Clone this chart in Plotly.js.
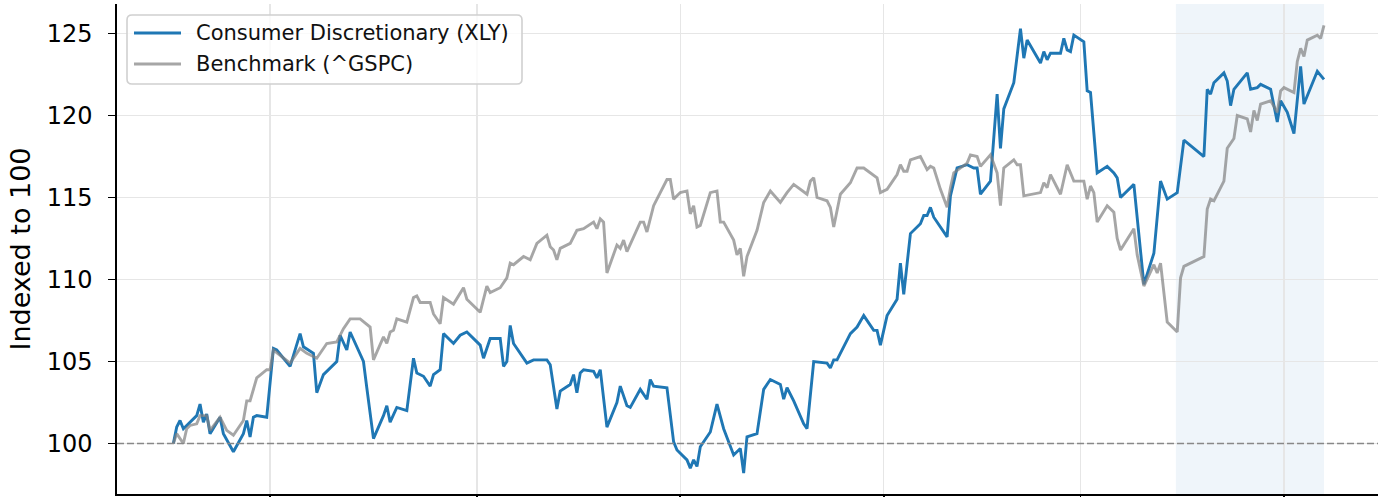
<!DOCTYPE html>
<html>
<head>
<meta charset="utf-8">
<script src="https://cdn.plot.ly/plotly-3.0.1.min.js"></script>
<style>
  html, body { margin: 0; padding: 0; background: #ffffff; }
  #chart { width: 1378px; height: 497px; }
</style>
</head>
<body>
<div id="chart"></div>
<script>
// ---------- data ----------
const xlyName = "Consumer Discretionary (XLY)";
const benchName = "Benchmark (^GSPC)";

const xlyDates = [
  "2024-06-02","2024-06-03","2024-06-04","2024-06-05","2024-06-06","2024-06-09","2024-06-10","2024-06-11","2024-06-12","2024-06-13","2024-06-16","2024-06-17","2024-06-20","2024-06-23","2024-06-24","2024-06-25","2024-06-26","2024-06-27","2024-06-30",
  "2024-07-02","2024-07-03","2024-07-07","2024-07-10","2024-07-11","2024-07-14","2024-07-15","2024-07-17","2024-07-21","2024-07-22","2024-07-24","2024-07-25","2024-07-29","2024-07-30",
  "2024-08-01","2024-08-04","2024-08-05","2024-08-06","2024-08-08","2024-08-11","2024-08-13","2024-08-14","2024-08-16","2024-08-18","2024-08-19","2024-08-21","2024-08-22","2024-08-25","2024-08-27","2024-08-29",
  "2024-09-02","2024-09-03","2024-09-05","2024-09-08","2024-09-09","2024-09-10","2024-09-11","2024-09-12","2024-09-16","2024-09-18","2024-09-22","2024-09-23","2024-09-25","2024-09-26","2024-09-29","2024-09-30",
  "2024-10-01","2024-10-02","2024-10-03","2024-10-06","2024-10-07","2024-10-08","2024-10-10","2024-10-13","2024-10-14","2024-10-16","2024-10-17","2024-10-20","2024-10-22","2024-10-23","2024-10-24","2024-10-28","2024-10-30","2024-10-31",
  "2024-11-03","2024-11-04","2024-11-05","2024-11-06","2024-11-07","2024-11-10","2024-11-12","2024-11-14","2024-11-17","2024-11-19","2024-11-20","2024-11-21","2024-11-24","2024-11-26","2024-11-28",
  "2024-12-01","2024-12-02","2024-12-03","2024-12-05","2024-12-08","2024-12-09","2024-12-11","2024-12-15","2024-12-16","2024-12-17","2024-12-18","2024-12-22","2024-12-24","2024-12-26","2024-12-29","2024-12-30","2024-12-31",
  "2025-01-02","2025-01-05","2025-01-06","2025-01-07","2025-01-09","2025-01-12","2025-01-13","2025-01-14","2025-01-15","2025-01-16","2025-01-20","2025-01-21","2025-01-23","2025-01-26","2025-01-28","2025-01-29","2025-01-30",
  "2025-02-02","2025-02-04","2025-02-05","2025-02-06","2025-02-09","2025-02-11","2025-02-12","2025-02-13","2025-02-17","2025-02-18","2025-02-19","2025-02-20","2025-02-23","2025-02-24","2025-02-25","2025-02-26","2025-02-27",
  "2025-03-02","2025-03-03","2025-03-04","2025-03-06","2025-03-09","2025-03-11","2025-03-12","2025-03-13","2025-03-17","2025-03-20","2025-03-23","2025-03-25","2025-03-27","2025-03-30",
  "2025-04-01","2025-04-07","2025-04-08","2025-04-09","2025-04-10","2025-04-13","2025-04-14","2025-04-15","2025-04-16","2025-04-20","2025-04-21","2025-04-23","2025-04-24","2025-04-27","2025-04-29","2025-04-30",
  "2025-05-02","2025-05-04","2025-05-06","2025-05-07","2025-05-11","2025-05-13"
];
const xlyValues = [
  100.0,101.0,101.4,100.9,101.1,101.7,102.4,101.3,101.8,100.6,101.6,100.6,99.5,100.6,101.4,100.4,101.6,101.7,101.6,
  105.8,105.7,104.7,106.7,105.9,105.5,103.1,104.2,105.0,106.6,105.7,106.8,105.0,103.4,
  100.3,101.7,102.3,101.3,102.2,102.0,105.2,104.3,104.1,103.5,104.2,104.5,106.7,106.1,106.6,106.8,
  106.0,105.2,106.4,106.4,104.7,105.0,107.2,106.1,104.9,105.1,105.1,104.8,102.1,103.2,103.6,104.2,
  103.1,104.3,104.5,104.4,104.0,104.5,101.0,102.5,103.5,102.3,102.2,103.3,102.7,103.9,103.5,103.4,100.1,99.6,
  99.0,98.5,99.0,98.6,99.8,100.7,102.4,100.9,99.3,99.7,98.2,100.4,100.6,103.3,103.9,
  103.6,102.7,103.4,102.6,101.2,100.9,105.0,104.9,104.6,105.1,105.1,106.7,107.1,107.8,106.9,106.9,106.0,
  107.8,108.8,111.0,109.1,112.8,113.4,113.9,113.9,114.4,113.8,112.6,115.1,116.8,117.0,116.8,116.8,115.2,
  116.0,121.3,118.0,120.4,122.0,125.3,123.5,124.6,123.2,123.9,123.4,123.8,123.8,124.7,124.0,123.9,124.9,
  124.5,121.5,121.4,116.5,116.9,116.5,116.2,115.0,115.8,109.7,111.6,116.0,114.9,115.3,
  118.5,117.5,121.6,121.3,122.0,122.6,122.1,120.6,121.6,122.6,121.6,121.7,121.9,121.6,119.6,120.9,
  120.2,118.9,123.0,120.7,122.7,122.2
];

const benchDates = [
  "2024-06-02","2024-06-03","2024-06-05","2024-06-06","2024-06-07","2024-06-09","2024-06-10","2024-06-12","2024-06-13","2024-06-16","2024-06-18","2024-06-20","2024-06-23","2024-06-24","2024-06-25","2024-06-27","2024-06-30",
  "2024-07-01","2024-07-02","2024-07-07","2024-07-10","2024-07-12","2024-07-15","2024-07-18","2024-07-21","2024-07-23","2024-07-25","2024-07-28","2024-07-31",
  "2024-08-01","2024-08-04","2024-08-05","2024-08-06","2024-08-07","2024-08-08","2024-08-11","2024-08-13","2024-08-14","2024-08-15","2024-08-18","2024-08-19","2024-08-21","2024-08-22","2024-08-25","2024-08-28","2024-08-29",
  "2024-09-02","2024-09-04","2024-09-05","2024-09-08","2024-09-10","2024-09-11","2024-09-12","2024-09-15","2024-09-17","2024-09-19","2024-09-22","2024-09-23","2024-09-24","2024-09-25","2024-09-26","2024-09-29",
  "2024-10-01","2024-10-03","2024-10-06","2024-10-07","2024-10-08","2024-10-09","2024-10-10","2024-10-13","2024-10-14","2024-10-15","2024-10-16","2024-10-20","2024-10-21","2024-10-22","2024-10-24","2024-10-28","2024-10-29","2024-10-30",
  "2024-11-01","2024-11-03","2024-11-04","2024-11-05","2024-11-06","2024-11-07","2024-11-10","2024-11-12","2024-11-13","2024-11-14","2024-11-17","2024-11-18","2024-11-19","2024-11-20","2024-11-21","2024-11-24","2024-11-26","2024-11-28",
  "2024-12-01","2024-12-03","2024-12-05","2024-12-09","2024-12-10","2024-12-11","2024-12-12","2024-12-15","2024-12-16","2024-12-17","2024-12-19","2024-12-22","2024-12-24","2024-12-26","2024-12-30","2024-12-31",
  "2025-01-02","2025-01-05","2025-01-06","2025-01-07","2025-01-08","2025-01-09","2025-01-12","2025-01-13","2025-01-14","2025-01-15","2025-01-16","2025-01-18","2025-01-20","2025-01-21","2025-01-22","2025-01-26","2025-01-27","2025-01-29","2025-01-30",
  "2025-02-02","2025-02-04","2025-02-05","2025-02-06","2025-02-09","2025-02-10","2025-02-11","2025-02-12","2025-02-17","2025-02-18","2025-02-19","2025-02-20","2025-02-23","2025-02-25","2025-02-27",
  "2025-03-02","2025-03-03","2025-03-04","2025-03-05","2025-03-06","2025-03-09","2025-03-11","2025-03-12","2025-03-13","2025-03-17","2025-03-18","2025-03-20","2025-03-23","2025-03-24","2025-03-25","2025-03-27","2025-03-30","2025-03-31",
  "2025-04-01","2025-04-07","2025-04-08","2025-04-09","2025-04-10","2025-04-13","2025-04-14","2025-04-16","2025-04-17","2025-04-20","2025-04-21","2025-04-22","2025-04-23","2025-04-24","2025-04-27","2025-04-29","2025-04-30",
  "2025-05-01","2025-05-04","2025-05-05","2025-05-06","2025-05-07","2025-05-08","2025-05-11","2025-05-12","2025-05-13"
];
const benchValues = [
  100.0,100.6,100.0,100.9,101.1,101.2,101.7,101.7,100.8,101.6,100.8,100.5,101.4,102.6,102.6,104.0,104.5,
  104.5,105.7,104.9,105.8,105.5,105.2,106.1,106.2,107.0,107.6,107.6,107.1,
  105.1,106.5,106.1,106.8,106.9,107.6,107.4,108.9,109.0,108.6,108.6,107.9,107.3,108.9,108.5,109.5,108.8,
  108.0,109.6,109.2,109.5,110.1,111.0,110.9,111.4,111.2,112.2,112.7,112.0,111.8,111.2,111.9,112.2,
  113.0,113.1,113.5,113.1,113.7,113.5,110.4,112.1,111.9,112.4,111.7,113.5,113.5,112.9,114.5,116.1,116.1,114.9,
  115.3,115.4,114.0,114.5,113.2,113.3,115.3,115.4,113.5,113.5,112.4,111.5,111.9,110.2,111.4,113.0,114.7,115.4,
  114.7,115.3,115.8,115.2,116.0,116.2,115.0,114.8,114.4,113.2,115.2,115.9,116.8,116.8,116.2,115.3,
  115.5,116.4,117.0,116.6,116.6,117.3,117.5,117.1,116.7,116.9,116.8,115.5,114.4,115.6,116.5,117.1,117.6,117.5,116.9,
  117.6,116.5,114.5,116.8,117.3,117.0,117.0,115.1,115.3,115.9,115.6,116.4,115.2,117.0,116.0,
  116.0,114.9,115.7,115.3,113.5,114.5,114.1,112.5,111.8,113.1,111.5,109.6,110.9,110.4,111.0,107.4,106.8,110.1,
  110.8,111.4,114.3,114.9,114.8,116.0,118.0,118.6,120.0,119.8,119.0,120.3,119.7,120.7,120.9,120.2,121.5,
  121.7,121.4,123.3,124.1,123.6,124.6,124.9,124.7,125.5
];

const xTickVals = ["2024-07-01","2024-09-01","2024-11-01","2025-01-01","2025-03-01","2025-05-01"];
const xTickText = ["2024-07","2024-09","2024-11","2025-01","2025-03","2025-05"];
const yTickVals = [100, 105, 110, 115, 120, 125];
const baseline = 100;
const shadeStart = "2025-03-29 14:00";
const shadeEnd = "2025-05-13";

// ---------- chart ----------
const FONT = "DejaVu Sans, Liberation Sans, sans-serif";
const XLY_COLOR = "#1f77b4";
const BENCH_COLOR = "rgba(128,128,128,0.7)";

// plot-area geometry (pixels) used to place the legend box
const W = 1378, H = 497, ML = 117, MR = 0, MT = 4, MB = 3;
const PW = W - ML - MR, PH = H - MT - MB;
const px = (x) => (x - ML) / PW;
const py = (y) => 1 - (y - MT) / PH;

function roundedRect(x0, y0, x1, y1, r) {
  const rx = r / PW, ry = r / PH;
  const X0 = px(x0), X1 = px(x1), Y0 = py(y0), Y1 = py(y1); // Y0 top, Y1 bottom
  return `M${X0 + rx},${Y0} L${X1 - rx},${Y0} Q${X1},${Y0} ${X1},${Y0 - ry} ` +
         `L${X1},${Y1 + ry} Q${X1},${Y1} ${X1 - rx},${Y1} ` +
         `L${X0 + rx},${Y1} Q${X0},${Y1} ${X0},${Y1 + ry} ` +
         `L${X0},${Y0 - ry} Q${X0},${Y0} ${X0 + rx},${Y0} Z`;
}

const traces = [
  {
    type: "scatter", mode: "lines", name: xlyName,
    x: xlyDates, y: xlyValues,
    line: { color: XLY_COLOR, width: 2.9 }
  },
  {
    type: "scatter", mode: "lines", name: benchName,
    x: benchDates, y: benchValues,
    line: { color: BENCH_COLOR, width: 2.9 }
  }
];

const legendRows = [
  { name: xlyName, color: XLY_COLOR, y: 33 },
  { name: benchName, color: BENCH_COLOR, y: 64 }
];

const shapes = [
  {
    type: "rect", layer: "below", xref: "x", yref: "paper",
    x0: shadeStart, x1: shadeEnd, y0: 0, y1: 1,
    fillcolor: "rgba(31,119,180,0.07)", line: { width: 0 }
  },
  {
    type: "line", layer: "above", xref: "paper", yref: "y",
    x0: 0, x1: 1, y0: baseline, y1: baseline,
    line: { color: "#888888", width: 1.3, dash: "7px,3px" }
  },
  {
    type: "path", layer: "above", xref: "paper", yref: "paper",
    path: roundedRect(127, 15, 522, 84, 5),
    fillcolor: "rgba(255,255,255,0.8)", line: { color: "#d0d0d0", width: 1.6 }
  }
];
const annotations = [];
legendRows.forEach(r => {
  shapes.push({
    type: "line", layer: "above", xref: "paper", yref: "paper",
    x0: px(134), x1: px(181), y0: py(r.y), y1: py(r.y),
    line: { color: r.color, width: 2.9 }
  });
  annotations.push({
    xref: "paper", yref: "paper", x: px(194), y: py(r.y),
    xanchor: "left", yanchor: "middle", showarrow: false,
    text: r.name, font: { family: FONT, size: 21, color: "#111111" }
  });
});

const layout = {
  width: W, height: H,
  margin: { l: ML, r: MR, t: MT, b: MB, pad: 0 },
  paper_bgcolor: "#ffffff", plot_bgcolor: "#ffffff",
  font: { family: FONT, color: "#000000" },
  showlegend: false,
  xaxis: {
    type: "date",
    range: ["2024-05-16 02:24", "2025-05-29 04:48"],
    tickmode: "array", tickvals: xTickVals, ticktext: xTickText,
    showticklabels: false,
    ticks: "outside", ticklen: 6, tickwidth: 1.6, tickcolor: "#000000",
    showgrid: true, gridcolor: "#e6e6e6", gridwidth: 1.5,
    showline: true, linecolor: "#000000", linewidth: 1.6,
    zeroline: false
  },
  yaxis: {
    range: [96.92, 126.8],
    tickmode: "array", tickvals: yTickVals,
    ticks: "outside", ticklen: 7, tickwidth: 1.6, tickcolor: "#000000",
    tickfont: { family: FONT, size: 24, color: "#000000" },
    ticklabelstandoff: 11,
    showgrid: true, gridcolor: "#e6e6e6", gridwidth: 1.5,
    showline: true, linecolor: "#000000", linewidth: 1.6,
    zeroline: false,
    title: { text: "Indexed to 100", font: { family: FONT, size: 27, color: "#000000" }, standoff: 8 }
  },
  shapes: shapes,
  annotations: annotations
};

Plotly.newPlot("chart", traces, layout, { displayModeBar: false, staticPlot: true });
</script>
</body>
</html>
